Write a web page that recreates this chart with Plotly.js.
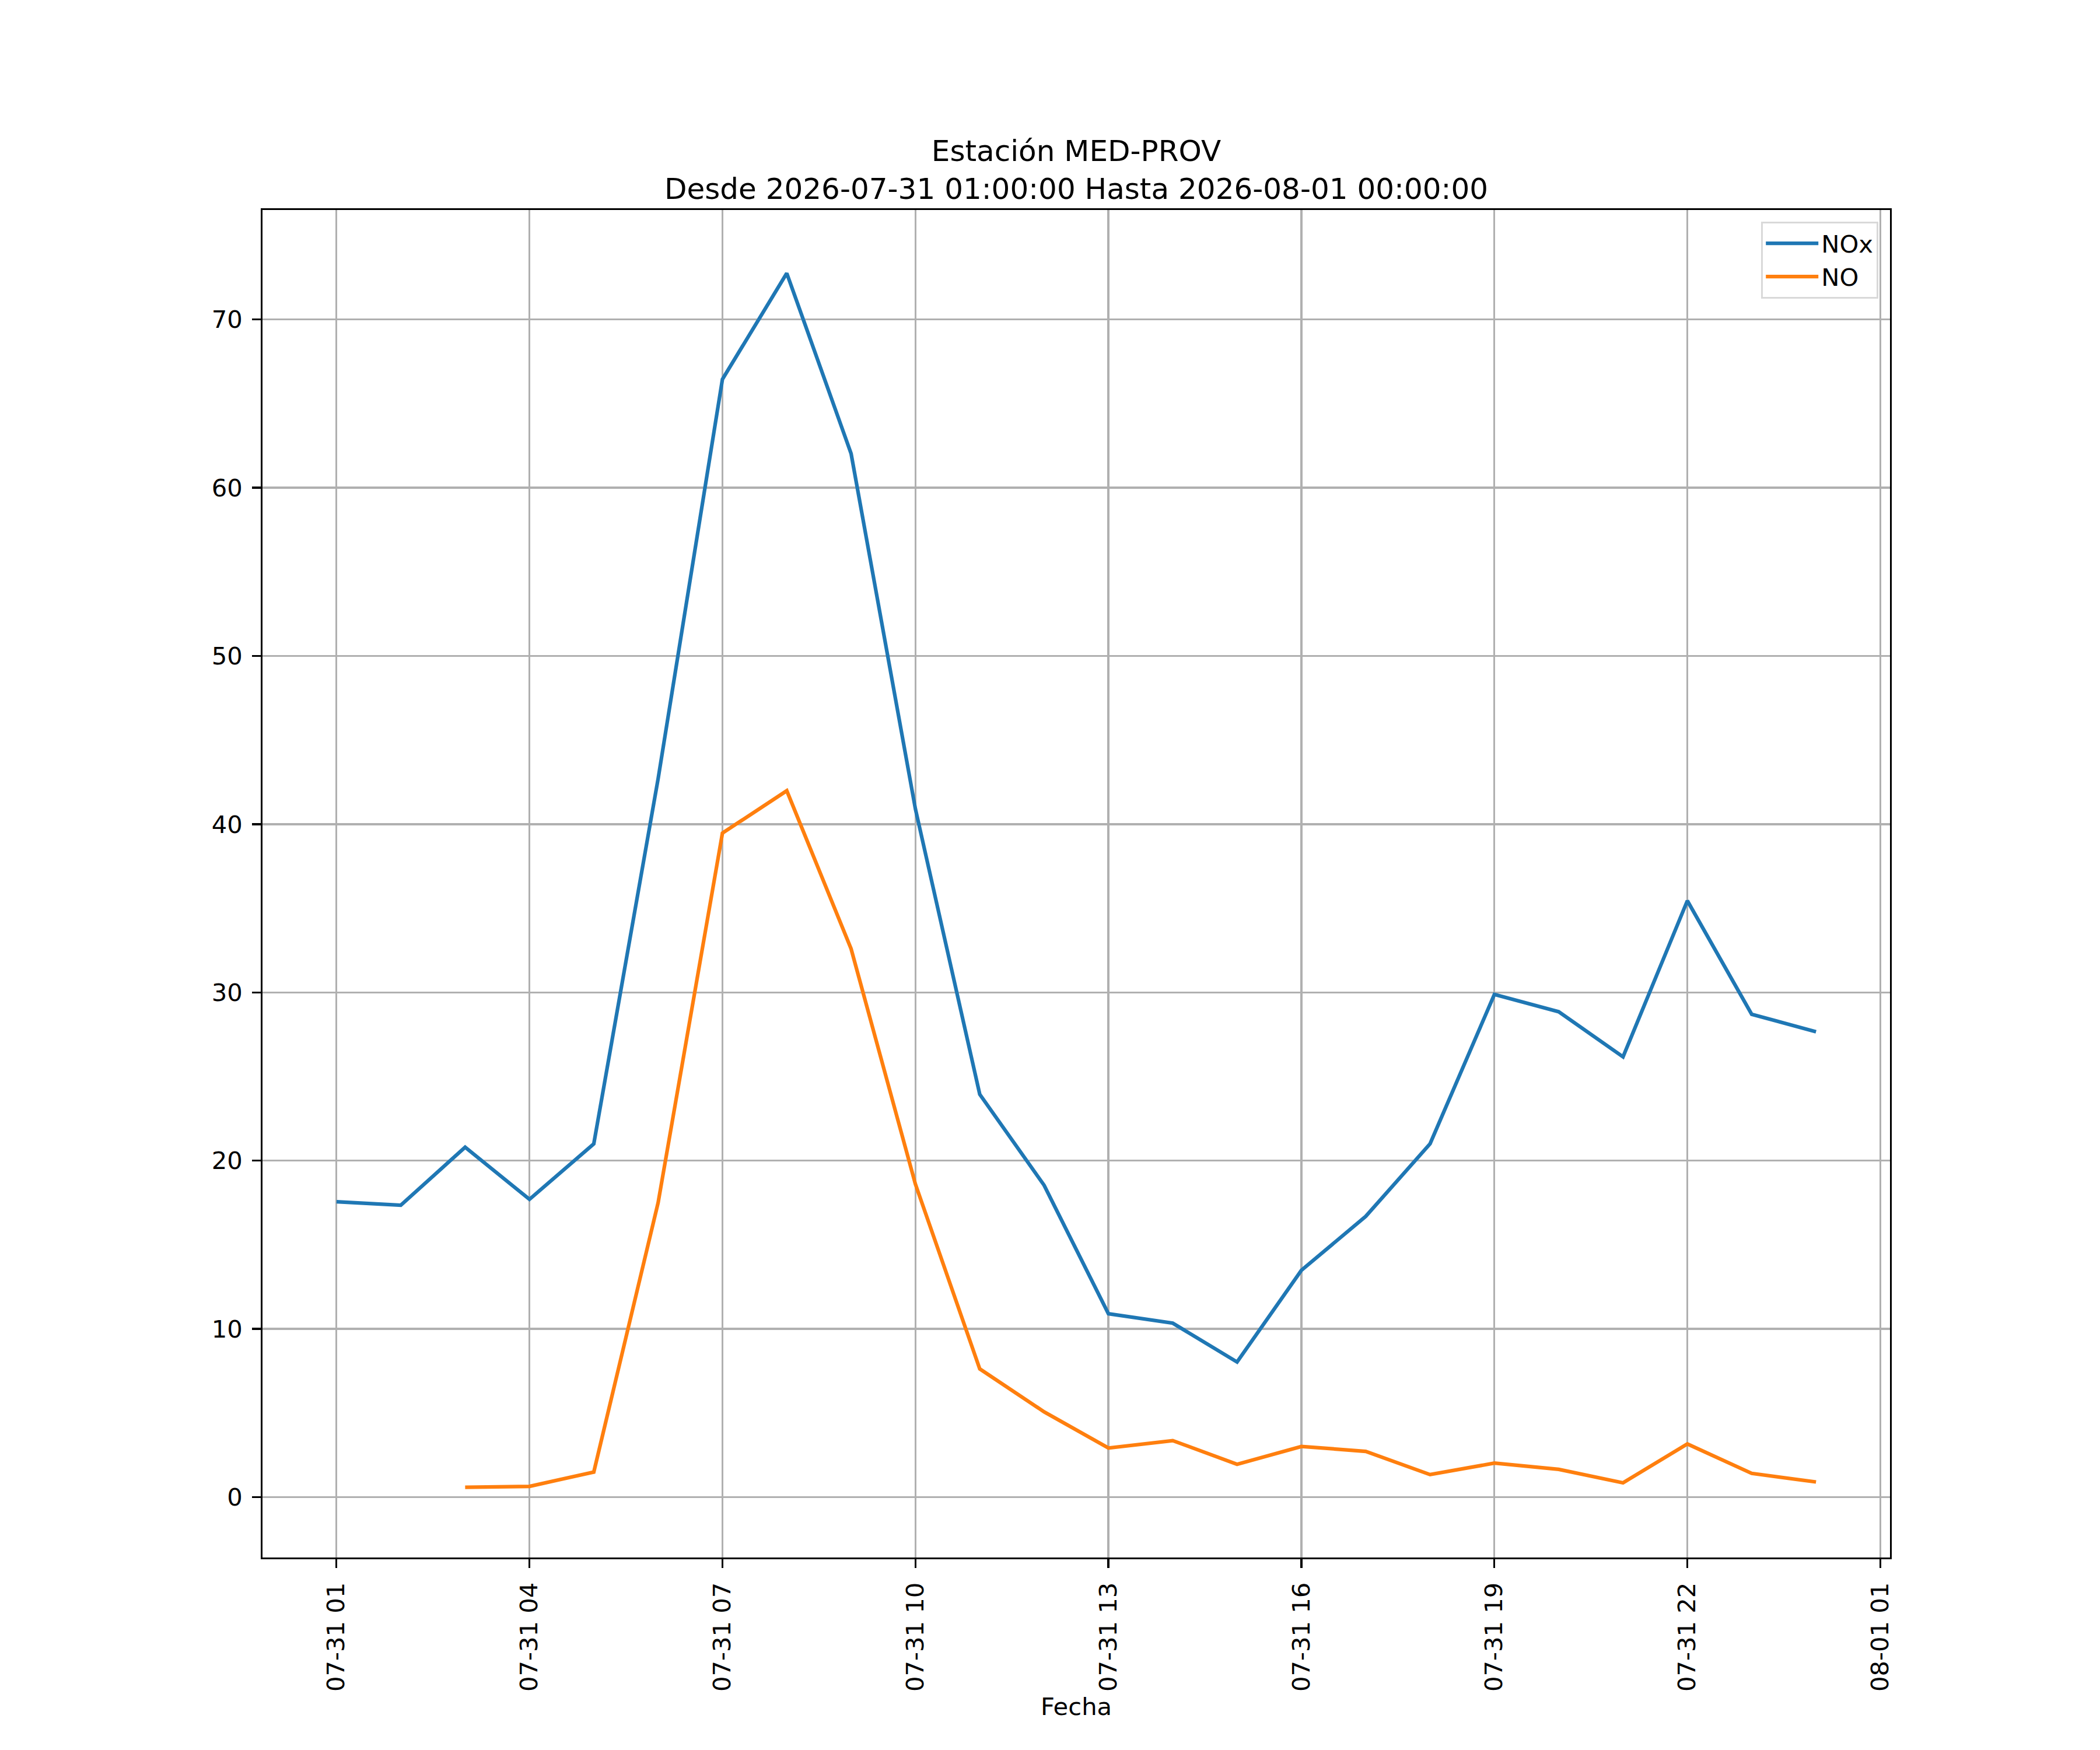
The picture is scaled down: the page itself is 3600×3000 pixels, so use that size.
<!DOCTYPE html>
<html>
<head>
<meta charset="utf-8">
<script src="https://cdn.plot.ly/plotly-3.0.1.min.js"></script>
<style>
  html, body { margin: 0; padding: 0; background: #fff; }
  #grafico { width: 3600px; height: 3000px; }
</style>
</head>
<body>
<div id="grafico"></div>
<script>
// horas de la serie (07-31 01:00 .. 08-01 00:00)
const fechas = [
  '2026-07-31 01:00', '2026-07-31 02:00', '2026-07-31 03:00', '2026-07-31 04:00',
  '2026-07-31 05:00', '2026-07-31 06:00', '2026-07-31 07:00', '2026-07-31 08:00',
  '2026-07-31 09:00', '2026-07-31 10:00', '2026-07-31 11:00', '2026-07-31 12:00',
  '2026-07-31 13:00', '2026-07-31 14:00', '2026-07-31 15:00', '2026-07-31 16:00',
  '2026-07-31 17:00', '2026-07-31 18:00', '2026-07-31 19:00', '2026-07-31 20:00',
  '2026-07-31 21:00', '2026-07-31 22:00', '2026-07-31 23:00', '2026-08-01 00:00'
];

const nox = [17.56, 17.35, 20.8, 17.7, 21.0, 42.7, 66.45, 72.75, 62.03, 40.9, 23.94, 18.54,
             10.9, 10.34, 8.03, 13.48, 16.69, 21.0, 29.88, 28.85, 26.17, 35.45, 28.7, 27.66];

const no = [null, null, 0.58, 0.64, 1.49, 17.5, 39.47, 41.99, 32.59, 18.6, 7.62, 5.07,
            2.92, 3.36, 1.95, 3.01, 2.72, 1.34, 2.02, 1.65, 0.85, 3.16, 1.41, 0.9];

const tickFechas = [
  '2026-07-31 01:00', '2026-07-31 04:00', '2026-07-31 07:00', '2026-07-31 10:00',
  '2026-07-31 13:00', '2026-07-31 16:00', '2026-07-31 19:00', '2026-07-31 22:00',
  '2026-08-01 01:00'
];
const tickTextos = ['07-31 01', '07-31 04', '07-31 07', '07-31 10', '07-31 13',
                    '07-31 16', '07-31 19', '07-31 22', '08-01 01'];

const yTicks = [0, 10, 20, 30, 40, 50, 60, 70];

const fuente = 'DejaVu Sans, sans-serif';
const lw = 3.33; // 0.8pt a 300 dpi

const trazas = [
  { x: fechas, y: nox, name: 'NOx', type: 'scatter', mode: 'lines',
    line: { color: '#1f77b4', width: 6.25 } },
  { x: fechas, y: no, name: 'NO', type: 'scatter', mode: 'lines',
    line: { color: '#ff7f0e', width: 6.25 }, connectgaps: false }
];

const layout = {
  width: 3600,
  height: 3000,
  paper_bgcolor: '#ffffff',
  plot_bgcolor: '#ffffff',
  font: { family: fuente, size: 41.7, color: '#000' },
  margin: { l: 450, r: 360, t: 360, b: 330 },
  showlegend: true,
  title: {
    text: 'Estación MED-PROV<br>Desde 2026-07-31 01:00:00 Hasta 2026-08-01 00:00:00',
    font: { family: fuente, size: 50, color: '#000' },
    x: 0.5, xref: 'paper', xanchor: 'center',
    y: 0.908, yref: 'container', yanchor: 'top'
  },
  xaxis: {
    type: 'date',
    range: ['2026-07-30 23:51:00', '2026-08-01 01:09:00'],
    tickmode: 'array',
    tickvals: tickFechas,
    ticktext: tickTextos,
    tickangle: -90,
    ticks: 'outside', ticklen: 14.6, tickwidth: lw, tickcolor: '#000',
    ticklabelstandoff: 8,
    showgrid: true, gridcolor: '#b0b0b0', gridwidth: lw,
    showline: true, mirror: true, linecolor: '#000', linewidth: lw,
    zeroline: false,
    tickfont: { family: fuente, size: 41.7, color: '#000' },
    title: { text: 'Fecha', font: { family: fuente, size: 41.7, color: '#000' }, standoff: 12 }
  },
  yaxis: {
    range: [-3.59, 76.51],
    tickmode: 'array',
    tickvals: yTicks,
    ticks: 'outside', ticklen: 14.6, tickwidth: lw, tickcolor: '#000',
    ticklabelstandoff: 8,
    showgrid: true, gridcolor: '#b0b0b0', gridwidth: lw,
    showline: true, mirror: true, linecolor: '#000', linewidth: lw,
    zeroline: false,
    tickfont: { family: fuente, size: 41.7, color: '#000' }
  },
  legend: {
    x: 0.9928, xanchor: 'right',
    y: 0.9913, yanchor: 'top',
    bgcolor: 'rgba(255,255,255,0.8)',
    bordercolor: '#d9d9d9', borderwidth: 3.3,
    font: { family: fuente, size: 41.7, color: '#000' },
    itemwidth: 90,
    tracegroupgap: 0
  }
};

Plotly.newPlot('grafico', trazas, layout, { displayModeBar: false, staticPlot: true });
</script>
</body>
</html>
